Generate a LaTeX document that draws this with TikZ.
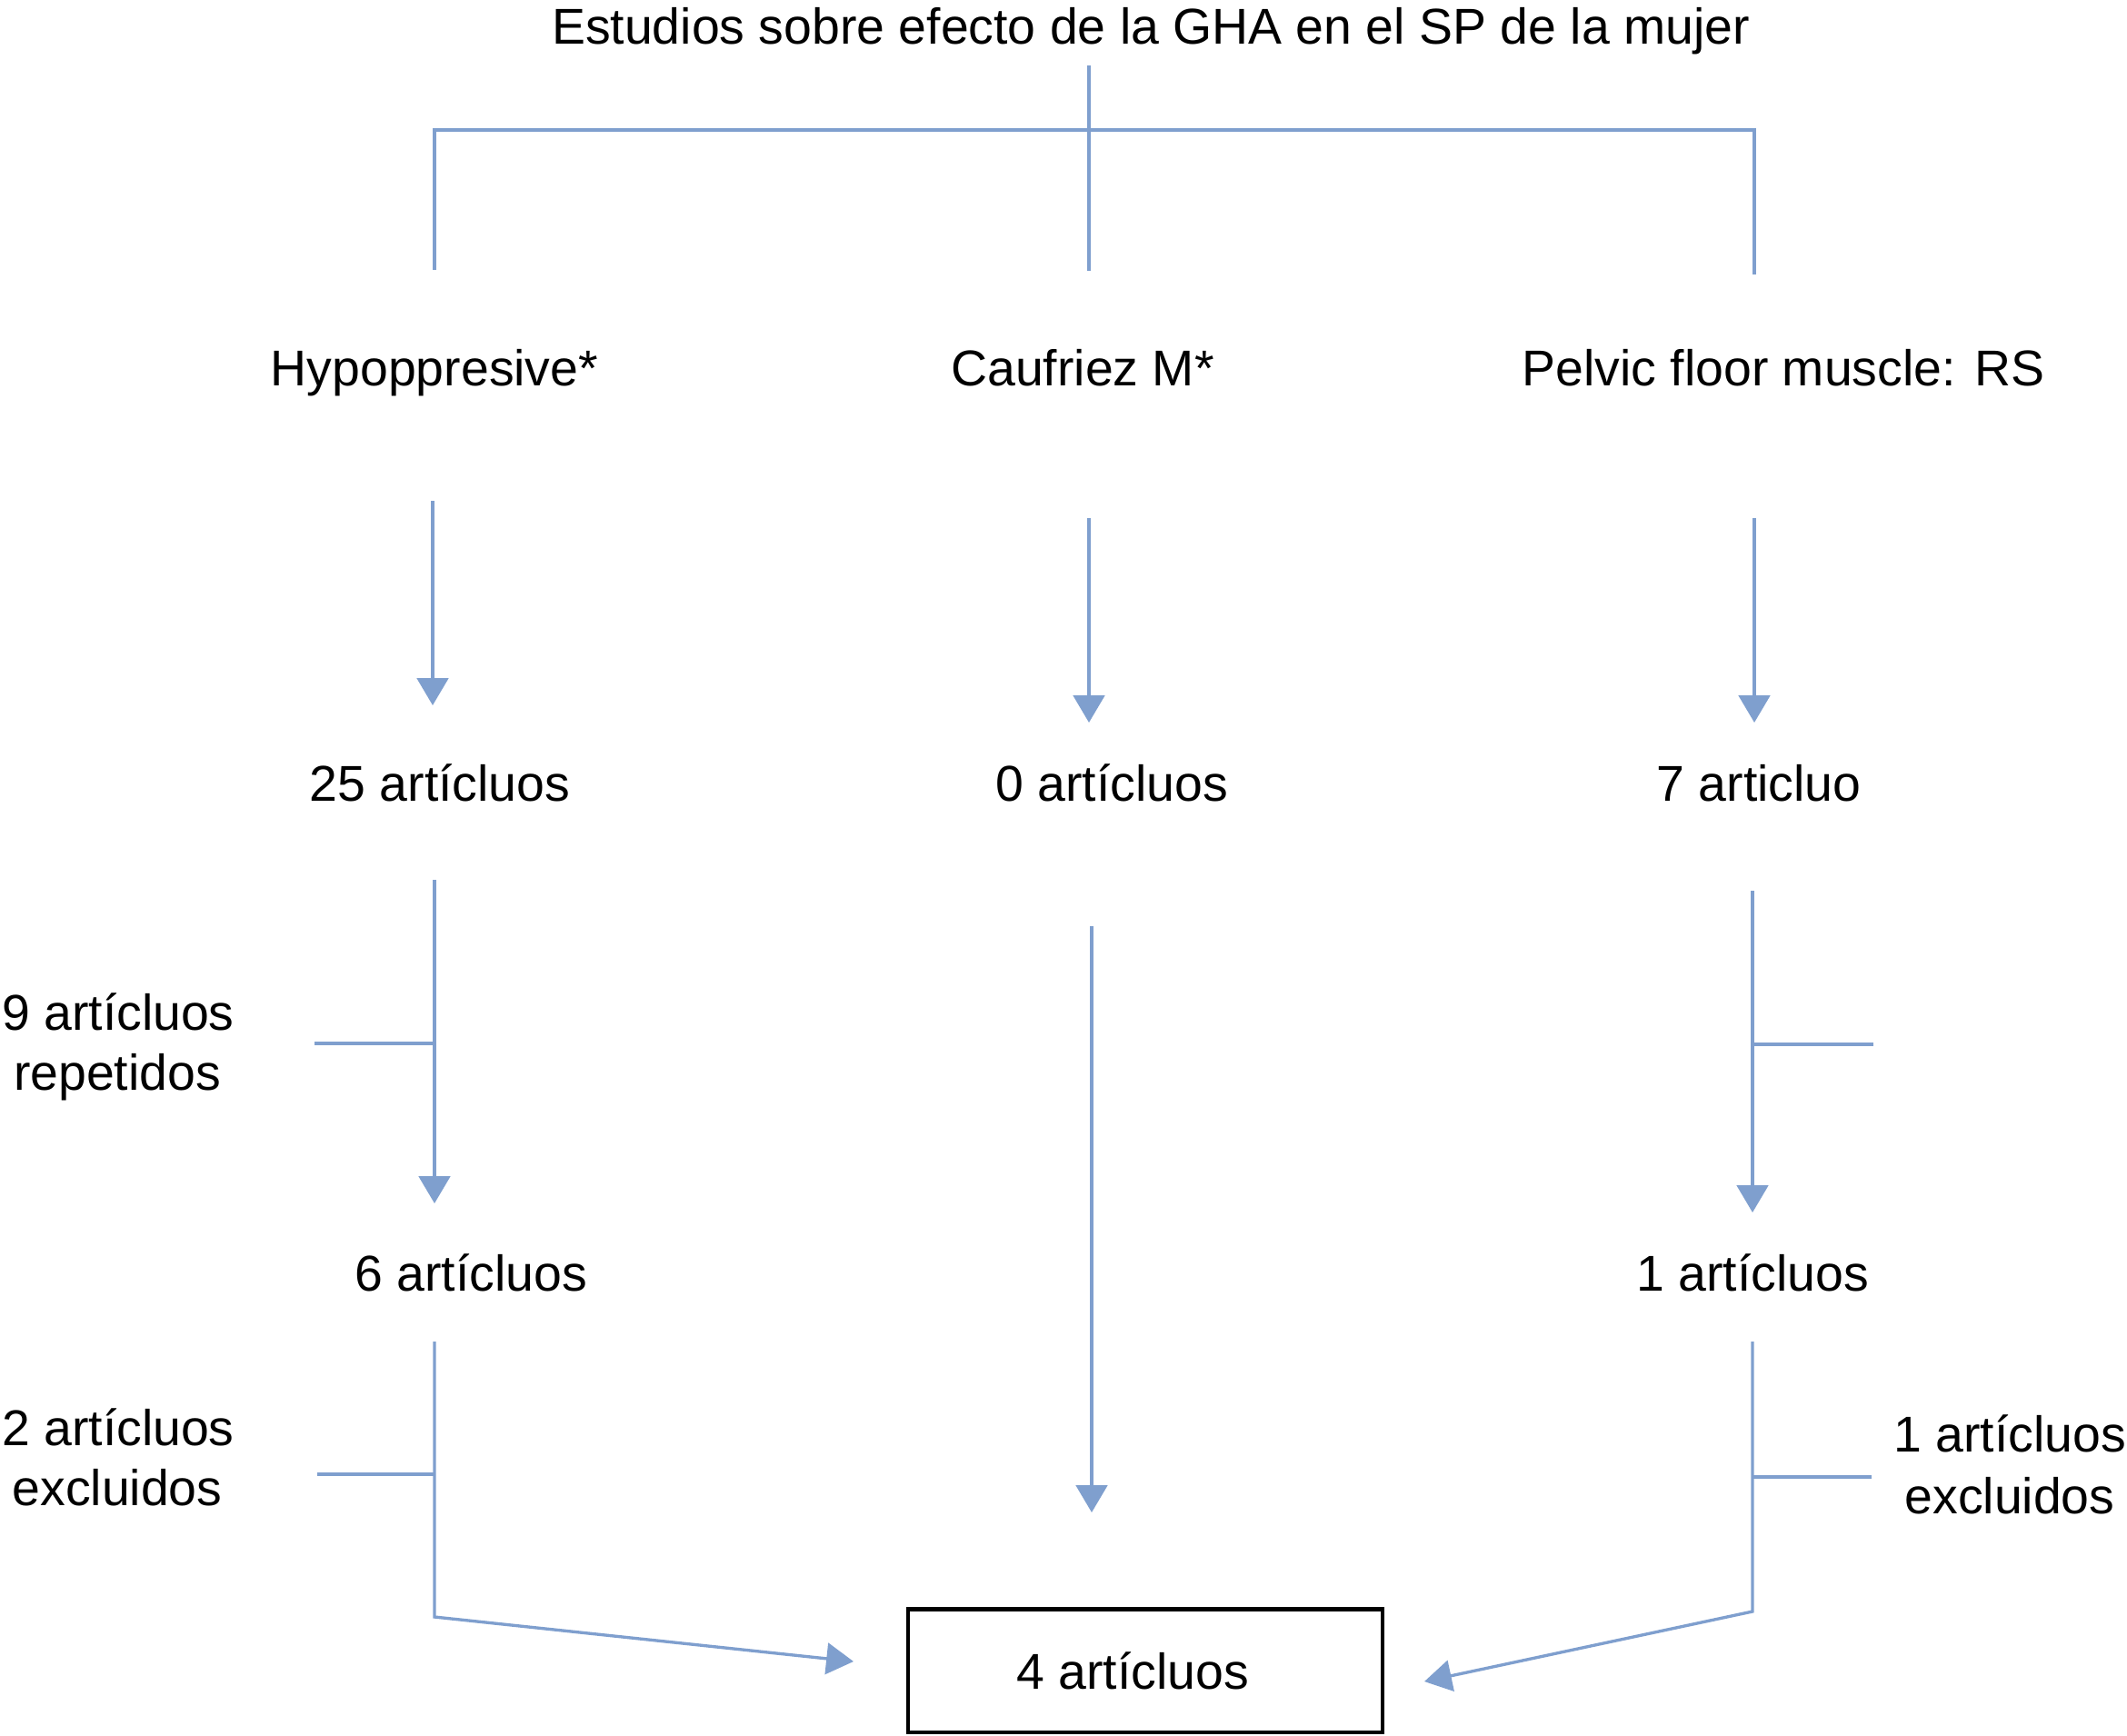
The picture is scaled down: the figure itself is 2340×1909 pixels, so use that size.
\documentclass[tikz,border=0pt]{standalone}
\usepackage{fontspec}
\setmainfont{Liberation Sans}
\usetikzlibrary{arrows.meta}
\definecolor{lineblue}{RGB}{127,159,206}
\begin{document}
\begin{tikzpicture}[x=0.01cm,y=-0.01cm,
  font=\fontsize{15.75}{18.7}\selectfont,
  lbl/.style={inner sep=0pt, anchor=base},
  conn/.style={draw=lineblue, line width=0.95pt},
  arr/.style={conn, -{Triangle[length=8.5pt,width=9.8pt]}},
  resultbox/.style={draw=black, line width=1.15pt, minimum width=5.21cm, minimum height=1.35cm, inner sep=0pt}]
\useasboundingbox (0,0) rectangle (2340,1909);
% texts
\node[lbl] (title) at (1266,48) {Estudios sobre efecto de la GHA en el SP de la mujer};
\node[lbl] (hyp) at (478,424) {Hypoppresive*};
\node[lbl] (cau) at (1191,424) {Caufriez M*};
\node[lbl] (pel) at (1962,424) {Pelvic floor muscle: RS};
\node[lbl] (n25) at (484,881) {25 artícluos};
\node[lbl] (n0) at (1223,881) {0 artícluos};
\node[lbl] (n7) at (1935,881) {7 articluo};
\node[lbl] (n6) at (518,1420) {6 artícluos};
\node[lbl] (n1) at (1928,1420) {1 artícluos};
\node[lbl] (rep1) at (130,1133) {9 artícluos};
\node[lbl] (rep2) at (129,1199) {repetidos};
\node[lbl] (exl1) at (130,1590) {2 artícluos};
\node[lbl] (exl2) at (129,1656) {excluidos};
\node[lbl] (exr1) at (2211,1597) {1 artícluos};
\node[lbl] (exr2) at (2211,1665) {excluidos};
\node[resultbox] (res) at (1260,1838) {};
\node[lbl] (restext) at (1246,1858) {4 artícluos};
% coordinates
\coordinate (t0) at (1198,72);
\coordinate (t1) at (1198,298);
\coordinate (hl) at (478,143);
\coordinate (hr) at (1930,143);
\coordinate (hl1) at (478,297);
\coordinate (hr1) at (1930,302);
\coordinate (a1s) at (476,551); \coordinate (a1e) at (476,776);
\coordinate (a2s) at (1198,570); \coordinate (a2e) at (1198,795);
\coordinate (a3s) at (1930,570); \coordinate (a3e) at (1930,795);
\coordinate (b1s) at (478,968); \coordinate (b1e) at (478,1324);
\coordinate (b1j) at (478,1148); \coordinate (b1x) at (346,1148);
\coordinate (b2s) at (1201,1019); \coordinate (b2e) at (1201,1664);
\coordinate (b3s) at (1928,980); \coordinate (b3e) at (1928,1334);
\coordinate (b3j) at (1928,1149); \coordinate (b3x) at (2061,1149);
\coordinate (c1s) at (478,1476); \coordinate (c1k) at (478,1779); \coordinate (c1e) at (939,1828);
\coordinate (c1j) at (478,1622); \coordinate (c1x) at (349,1622);
\coordinate (c3s) at (1928,1476); \coordinate (c3k) at (1928,1773); \coordinate (c3e) at (1567,1850);
\coordinate (c3j) at (1928,1625); \coordinate (c3x) at (2059,1625);
% connectors
\draw[conn] (t0) -- (t1);
\draw[conn] (hl1) -- (hl) -- (hr) -- (hr1);
\draw[arr] (a1s) -- (a1e);
\draw[arr] (a2s) -- (a2e);
\draw[arr] (a3s) -- (a3e);
\draw[arr] (b1s) -- (b1e);
\draw[conn] (b1x) -- (b1j);
\draw[arr] (b2s) -- (b2e);
\draw[arr] (b3s) -- (b3e);
\draw[conn] (b3j) -- (b3x);
\draw[arr] (c1s) -- (c1k) -- (c1e);
\draw[conn] (c1x) -- (c1j);
\draw[arr] (c3s) -- (c3k) -- (c3e);
\draw[conn] (c3j) -- (c3x);
\end{tikzpicture}
\end{document}
